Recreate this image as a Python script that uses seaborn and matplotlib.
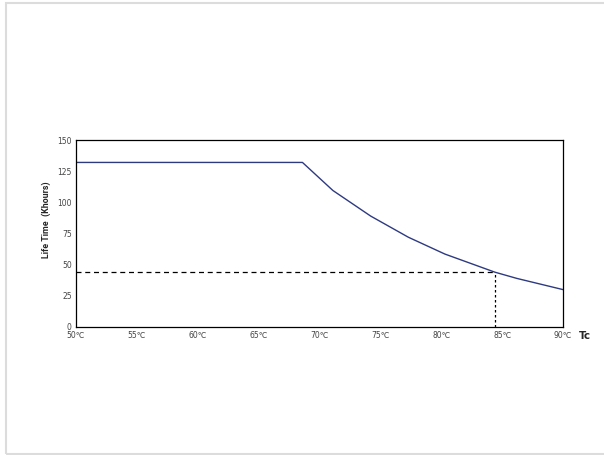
import matplotlib
matplotlib.use("Agg")
import matplotlib.pyplot as plt
import seaborn as sns
import pandas as pd
from matplotlib.patches import Rectangle

# Derating curve: case temperature vs. lifetime
tc = [50, 68.6, 71.1, 74.2, 77.3, 80.3, 84.4, 86.2, 90]
life_khours = [132, 132, 109.5, 89, 72, 58.5, 44, 39, 30]
x_ticks = [50, 55, 60, 65, 70, 75, 80, 85, 90]
x_tick_labels = [f"{t}\u2103" for t in x_ticks]
y_ticks = [0, 25, 50, 75, 100, 125, 150]
ref_tc = 84.4
ref_life = 44

df = pd.DataFrame({"Tc": tc, "Life": life_khours})

sns.set_style("white")
plt.rcParams["font.family"] = ["DejaVu Sans"]

fig = plt.figure(figsize=(6.04, 4.55), dpi=100)
# light outer frame (open on the right)
fig.patches.append(Rectangle((5.5 / 604, 1.5 / 455), 1.2, 450.5 / 455,
                             transform=fig.transFigure, fill=False,
                             edgecolor="#dcdcdc", linewidth=1.5))

ax = fig.add_axes([76 / 604, 1 - 327 / 455, 487 / 604, 187 / 455])
sns.lineplot(data=df, x="Tc", y="Life", ax=ax, color="#2E3A80",
             linewidth=1.0, estimator=None, sort=False)

# reference point guides
ax.plot([x_ticks[0], ref_tc], [ref_life, ref_life], color="black",
        linestyle=(0, (4, 3)), linewidth=0.9)
ax.plot([ref_tc, ref_tc], [0, ref_life], color="black",
        linestyle=(0, (2, 2)), linewidth=0.9)

ax.set_xlim(50, 90)
ax.set_ylim(0, 150)
ax.set_xticks(x_ticks)
ax.set_xticklabels(x_tick_labels, fontsize=5.5, color="#444444")
ax.set_yticks(y_ticks)
ax.set_yticklabels([str(v) for v in y_ticks], fontsize=5.5, color="#444444")
ax.tick_params(length=0, pad=3)
ax.set_xlabel("")
ax.set_ylabel("Life Time  (Khours)", fontsize=6.4, fontweight="bold",
              family=["Roboto", "DejaVu Sans"])
ax.yaxis.set_label_coords(-0.052, 0.575)
for s in ax.spines.values():
    s.set_color("black")
    s.set_linewidth(0.9)

fig.text(579 / 604, 1 - 336 / 455, "Tc", fontsize=7.5, fontweight="bold",
         va="center", ha="left")

fig.savefig("out.png", dpi=100)
